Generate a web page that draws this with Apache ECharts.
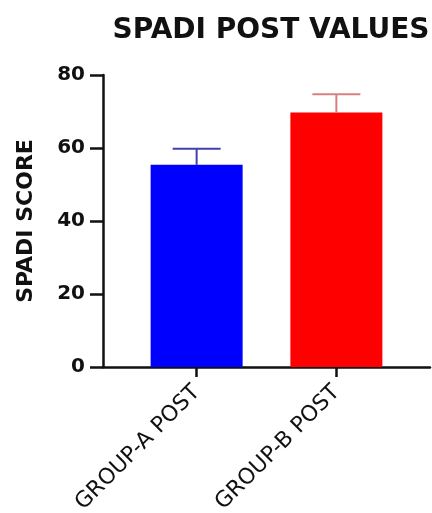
<!DOCTYPE html>
<html>
<head>
<meta charset="utf-8">
<script src="https://cdn.jsdelivr.net/npm/echarts@6/dist/echarts.min.js"></script>
<style>html,body{margin:0;padding:0;background:#fff}#c{width:432px;height:513px}</style>
</head>
<body>
<div id="c"></div>
<script>
const categories = ['GROUP-A POST', 'GROUP-B POST'];
const means = [55.4, 69.7];
const sds = [4.4, 5.0];
const barColors = ['#0000ff', '#ff0000'];
const errColors = ['#4040b0', '#d88080'];
const positions = [1, 2];

const chart = echarts.init(document.getElementById('c'), null, {renderer: 'canvas'});
const barData = means.map((m, i) => ({value: [positions[i], m], itemStyle: {color: barColors[i]}}));
const errData = means.map((m, i) => [positions[i], m, m + sds[i], i]);

chart.setOption({
  animation: false,
  backgroundColor: '#fff',
  title: {
    text: 'SPADI POST VALUES',
    left: 266, top: 12, textAlign: 'center',
    textStyle: {fontFamily: 'DejaVu Sans', fontWeight: 'bold', fontSize: 28, color: '#111'}
  },
  grid: {left: 103, right: 2, top: 75, bottom: 146, containLabel: false, outerBoundsMode: 'none'},
  xAxis: {
    type: 'value', min: 0.33, max: 2.67,
    splitLine: {show: false},
    axisLine: {show: true, onZero: false, lineStyle: {color: '#111', width: 2.5}},
    axisTick: {show: true, length: 10, lineStyle: {color: '#111', width: 2.5}, customValues: positions},
    axisLabel: {
      customValues: positions, rotate: 45, margin: 22,
      formatter: v => categories[Math.round(v) - 1] || '',
      fontFamily: 'DejaVu Sans', fontSize: 22, color: '#111'
    }
  },
  yAxis: {
    type: 'value', min: 0, max: 80, interval: 20,
    name: 'SPADI SCORE', nameLocation: 'middle', nameGap: 66, nameRotate: 90,
    nameTextStyle: {fontFamily: 'DejaVu Sans', fontWeight: 'bold', fontSize: 22, color: '#111'},
    splitLine: {show: false},
    axisLine: {show: true, lineStyle: {color: '#111', width: 2.5}},
    axisTick: {show: true, inside: false, length: 13, lineStyle: {color: '#111', width: 2.5}},
    axisLabel: {margin: 18, fontFamily: 'DejaVu Sans', fontWeight: 'bold', fontSize: 20, color: '#111'}
  },
  series: [
    {
      type: 'bar', data: barData, barWidth: 92, z: 2
    },
    {
      type: 'custom', z: 3,
      data: errData,
      renderItem: function (params, api) {
        const x = api.value(0), m = api.value(1), top = api.value(2), idx = api.value(3);
        const p0 = api.coord([x, m]);
        const p1 = api.coord([x, top]);
        const half = 24;
        const style = {stroke: errColors[idx], lineWidth: 2, fill: null};
        return {
          type: 'group',
          children: [
            {type: 'line', shape: {x1: p0[0], y1: p0[1], x2: p1[0], y2: p1[1]}, style: style},
            {type: 'line', shape: {x1: p1[0] - half, y1: p1[1], x2: p1[0] + half, y2: p1[1]}, style: style}
          ]
        };
      }
    }
  ]
});
</script>
</body>
</html>
